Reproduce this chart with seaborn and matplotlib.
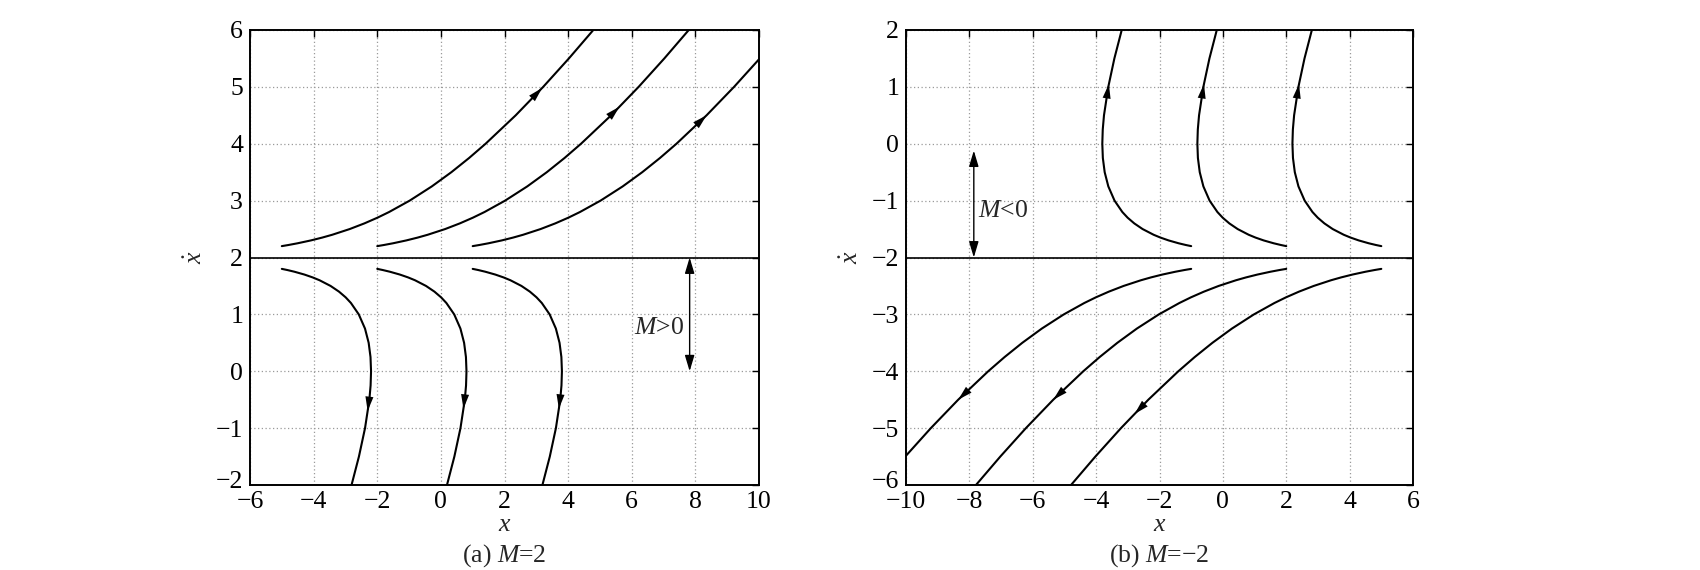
import numpy as np
import pandas as pd
import matplotlib
matplotlib.use("Agg")
import matplotlib.pyplot as plt
import matplotlib.transforms as mtransforms
import seaborn as sns

# ---------------- data ----------------
# trajectory shape above the switching line (panel a): velocity and x-offset from start
upper_v = [2.2, 2.22, 2.25, 2.3, 2.35, 2.4, 2.5, 2.6, 2.7, 2.8, 3.0, 3.25, 3.5,
           3.75, 4.0, 4.5, 5.0, 5.5, 6.0, 6.5]
upper_dx = [0.0, 0.211, 0.496, 0.911, 1.269, 1.586, 2.133, 2.597, 3.006, 3.373,
            4.019, 4.715, 5.330, 5.888, 6.405, 7.352, 8.216, 9.024, 9.792, 10.527]
# trajectory shape below the switching line (panel a)
lower_v = [1.8, 1.78, 1.75, 1.7, 1.65, 1.6, 1.5, 1.4, 1.3, 1.2, 1.0, 0.75, 0.5,
           0.25, 0.0, -0.25, -0.5, -1.0, -1.5, -2.0, -2.5]
lower_dx = [0.0, 0.171, 0.396, 0.711, 0.969, 1.186, 1.533, 1.797, 2.006, 2.173,
            2.419, 2.615, 2.730, 2.788, 2.805, 2.791, 2.752, 2.616, 2.424, 2.192, 1.927]
# panel (b) is the point-mirror of panel (a): x -> -x, v -> -v
starts_a = [-5, -2, 1]
starts_b = [-1, 2, 5]
M_a = 2
M_b = -2
arrow_a_upper = [4.98, 4.65, 4.50]
arrow_a_lower = [-0.70, -0.66, -0.66]
arrow_b_upper = [1.05, 1.05, 1.05]
arrow_b_lower = [-4.50, -4.50, -4.75]
xticks_a = [-6, -4, -2, 0, 2, 4, 6, 8, 10]
yticks_a = [-2, -1, 0, 1, 2, 3, 4, 5, 6]
xticks_b = [-10, -8, -6, -4, -2, 0, 2, 4, 6]
yticks_b = [-6, -5, -4, -3, -2, -1, 0, 1, 2]
captions = ["(a) $M$=2", "(b) $M$=\u22122"]

# ---------------- style ----------------
sns.set_theme(style="white")
plt.rcParams["font.family"] = ["Liberation Serif", "DejaVu Serif"]
plt.rcParams["mathtext.fontset"] = "custom"
plt.rcParams["mathtext.rm"] = "Liberation Serif"
plt.rcParams["mathtext.it"] = "Liberation Serif:italic"
plt.rcParams["axes.unicode_minus"] = True
FS = 18.5

fig = plt.figure(figsize=(17, 5.7), dpi=100)
ax_a = fig.add_axes([250 / 1700, 85 / 570, 509 / 1700, 455 / 570])
ax_b = fig.add_axes([906 / 1700, 85 / 570, 507 / 1700, 455 / 570])


def build(starts, v_shape, dx_shape, sign, tag):
    rows = []
    for i, s in enumerate(starts):
        for v, d in zip(v_shape, dx_shape):
            rows.append({"x": s + sign * d, "v": sign * v, "curve": f"{tag}{i}"})
    return pd.DataFrame(rows)


def add_arrows(ax, starts, v_shape, dx_shape, sign, tips):
    v = sign * np.asarray(v_shape, float)
    for s, vt in zip(starts, tips):
        x = s + sign * np.asarray(dx_shape, float)
        order = np.argsort(v)
        direction = np.sign(v[-1] - v[0])
        vtail = vt - direction * 0.35
        xt = np.interp(vt, v[order], x[order])
        xs = np.interp(vtail, v[order], x[order])
        ax.annotate("", xy=(xt, vt), xytext=(xs, vtail),
                    arrowprops=dict(arrowstyle="-|>,head_length=0.65,head_width=0.18",
                                    color="black", lw=0.01, mutation_scale=16,
                                    shrinkA=0, shrinkB=0))


panels = [
    (ax_a, starts_a, 1, M_a, arrow_a_upper, arrow_a_lower, xticks_a, yticks_a),
    (ax_b, starts_b, -1, M_b, arrow_b_upper, arrow_b_lower, xticks_b, yticks_b),
]

for k, (ax, starts, sign, M, arr_up, arr_lo, xt, yt) in enumerate(panels):
    # in panel b the mirrored lower shape is above the line, mirrored upper is below
    if sign == 1:
        df = pd.concat([build(starts, upper_v, upper_dx, 1, "u"),
                        build(starts, lower_v, lower_dx, 1, "l")])
    else:
        df = pd.concat([build(starts, lower_v, lower_dx, -1, "u"),
                        build(starts, upper_v, upper_dx, -1, "l")])
    sns.lineplot(data=df, x="x", y="v", units="curve", estimator=None, sort=False,
                 color="black", lw=1.5, ax=ax, legend=False)
    if sign == 1:
        add_arrows(ax, starts, upper_v, upper_dx, 1, arr_up)
        add_arrows(ax, starts, lower_v, lower_dx, 1, arr_lo)
    else:
        add_arrows(ax, starts, lower_v, lower_dx, -1, arr_up)
        add_arrows(ax, starts, upper_v, upper_dx, -1, arr_lo)

    ax.axhline(M, color="black", lw=1.2, zorder=3)
    ax.set_xlim(xt[0], xt[-1])
    ax.set_ylim(yt[0], yt[-1])
    ax.set_xticks(xt)
    ax.set_yticks(yt)
    ax.grid(True, linestyle=(0, (1, 2)), color="#9a9a9a", lw=0.9)
    ax.tick_params(direction="in", top=True, right=True, length=5, width=1,
                   labelsize=FS, colors="black")
    ax.tick_params(axis="x", pad=4)
    ax.tick_params(axis="y", pad=5)
    for sp in ax.spines.values():
        sp.set_visible(True)
        sp.set_color("black")
        sp.set_linewidth(1.4)
    ax.set_xlabel("$x$", fontsize=FS, labelpad=1)
    ax.set_ylabel(r"$\dot{x}$", fontsize=FS, labelpad=6)
    ax.text(0.5, -0.155, captions[k], transform=ax.transAxes, ha="center",
            va="center", fontsize=FS)
    # nudge the lowest y tick label up a little, as in the reference
    fig.canvas.draw()
    lab = ax.get_yticklabels()[0]
    lab.set_transform(lab.get_transform() +
                      mtransforms.ScaledTranslation(0, 6 / 100, fig.dpi_scale_trans))

# switching-region indicators
ax_a.annotate("", xy=(7.82, 0.0), xytext=(7.82, 2.0),
              arrowprops=dict(arrowstyle="<|-|>,head_length=0.6,head_width=0.18",
                              color="black", lw=1.0, mutation_scale=16,
                              shrinkA=0, shrinkB=0))
ax_a.text(6.85, 0.76, "$M$>0", ha="center", va="center", fontsize=FS)
ax_b.annotate("", xy=(-7.86, -0.12), xytext=(-7.86, -2.0),
              arrowprops=dict(arrowstyle="<|-|>,head_length=0.6,head_width=0.18",
                              color="black", lw=1.0, mutation_scale=16,
                              shrinkA=0, shrinkB=0))
ax_b.text(-6.95, -1.19, "$M$<0", ha="center", va="center", fontsize=FS)

fig.savefig("out.png", dpi=100)
